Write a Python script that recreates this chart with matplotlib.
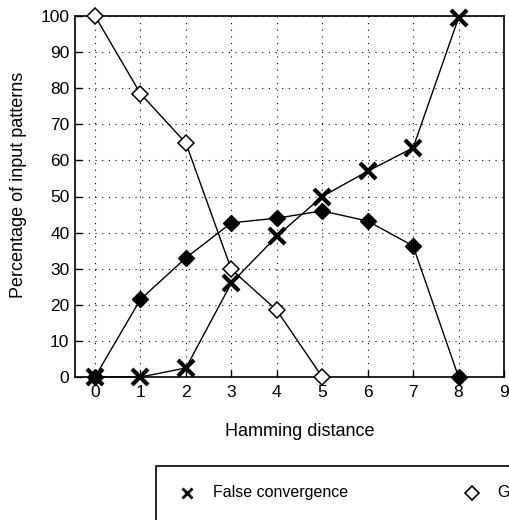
import matplotlib
matplotlib.use("Agg")
import matplotlib.pyplot as plt
from matplotlib.lines import Line2D
from matplotlib.patches import Rectangle

plt.rcParams['font.family'] = ['Liberation Sans', 'DejaVu Sans']

hamming = [0, 1, 2, 3, 4, 5, 6, 7, 8]
false_conv = [0, 0, 2.5, 26, 39, 50, 57, 63.5, 99.5]
good_x = [0, 1, 2, 3, 4, 5]
good_conv = [100, 78.5, 64.8, 29.8, 18.5, 0]
filled_conv = [0, 21.5, 33, 42.7, 44, 46, 43.2, 36.3, 0]

xticks = list(range(10))
yticks = list(range(0, 101, 10))
legend_labels = ['False convergence', 'Good convergence']

W, H = 509, 520
fig = plt.figure(figsize=(W/100, H/100), dpi=100)
ax = fig.add_axes([75/W, 1-377/H, (504-75)/W, (377-16)/H])

ax.plot(hamming, filled_conv, color='black', lw=1.0, marker='D', ms=8,
        mfc='black', mec='black', zorder=3, clip_on=False)
ax.plot(good_x, good_conv, color='black', lw=1.0, marker='D', ms=8.5,
        mfc='white', mec='black', mew=1.1, zorder=4, clip_on=False)
ax.plot(hamming, false_conv, color='black', lw=1.0, marker='x', ms=11,
        mew=3, mec='black', zorder=5, clip_on=False)

ax.set_xlim(-0.44, 9.0)
ax.set_ylim(0, 100)
ax.set_xticks(xticks)
ax.set_yticks(yticks)
ax.tick_params(direction='in', length=5, width=1, labelsize=12.5)
ax.tick_params(axis='x', pad=6)
ax.tick_params(axis='y', pad=4)
ax.grid(True, color='black', linestyle=(0, (1, 5)), lw=0.8)
for s in ax.spines.values():
    s.set_linewidth(1.2)
for t in ax.get_xticklabels() + ax.get_yticklabels():
    t.set_clip_on(False)

ax.set_ylabel('Percentage of input patterns', fontsize=13)
ax.yaxis.set_label_coords((27-75)/429, (377-185)/361)
ax.text(4.5, -(431-377)/361, 'Hamming distance', transform=ax.get_xaxis_transform(),
        ha='center', va='center', fontsize=13)

# legend box (extends past the figure edges like the reference)
fig.add_artist(Rectangle((156/W, -0.2), 1.0, 0.2 + 1-466/H,
                         transform=fig.transFigure, fill=False,
                         edgecolor='black', lw=1.2))
ly = 1 - 493/H
fig.add_artist(Line2D([187/W], [ly], transform=fig.transFigure, ls='none',
                      marker='x', ms=7, mew=2, color='black'))
fig.text(213/W, ly, legend_labels[0], ha='left', va='center', fontsize=11.5)
fig.add_artist(Line2D([472/W], [ly], transform=fig.transFigure, ls='none',
                      marker='D', ms=7, mfc='white', mec='black', mew=1.2))
fig.text(498/W, ly, legend_labels[1], ha='left', va='center', fontsize=11.5)

fig.savefig('out.png', dpi=100)
